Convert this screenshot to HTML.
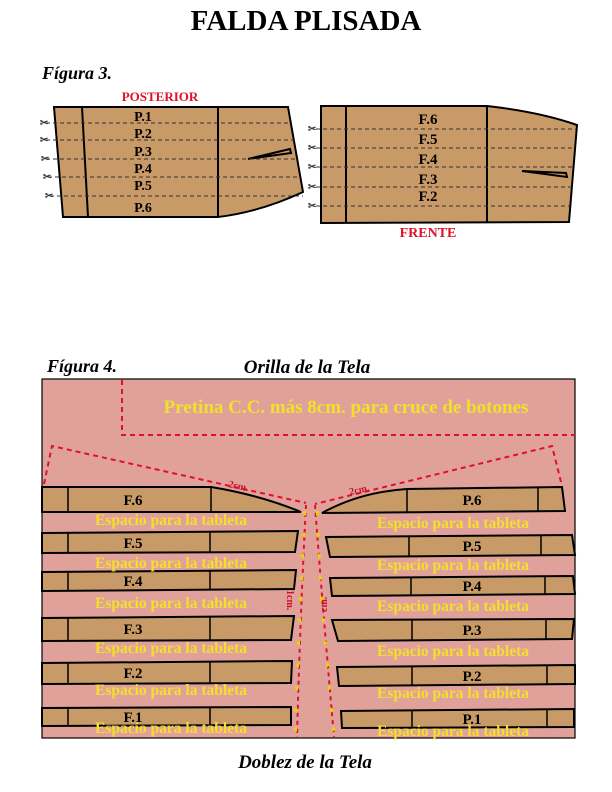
<!DOCTYPE html>
<html><head><meta charset="utf-8"><style>
html,body{margin:0;padding:0;background:#fff}
svg{display:block}
text{font-family:"Liberation Serif",serif;font-weight:bold}
</style></head><body>
<svg width="612" height="792" viewBox="0 0 612 792" xmlns="http://www.w3.org/2000/svg">
<text x="306" y="30" font-size="29" text-anchor="middle">FALDA PLISADA</text>
<text x="42" y="79" font-size="18" font-style="italic">Fígura 3.</text>
<text x="160" y="101" font-size="13" fill="#e0102a" text-anchor="middle">POSTERIOR</text>
<text x="428" y="237" font-size="14" fill="#e0102a" text-anchor="middle">FRENTE</text>

<!-- Posterior -->
<g stroke="#000" stroke-width="2" fill="#c89a68">
<path d="M54,107 L288,107 L303,192 Q260,212 218,217 L63,217 Z"/>
</g>
<g stroke="#000" stroke-width="2" fill="none">
<path d="M82,107 L88,217"/><path d="M218,107 L218,217"/>
<path d="M248,159 L290,149 L291,153 Z" fill="#c89a68"/>
</g>
<g stroke="#333" stroke-width="1" stroke-dasharray="4,3">
<path d="M46,123 L292,123 M46,140 L294,140 M46,159 L297,159 M48,177 L300,177 M50,196 L303,196"/>
</g>
<g font-size="14" text-anchor="middle">
<text x="143" y="121">P.1</text><text x="143" y="138">P.2</text><text x="143" y="156">P.3</text>
<text x="143" y="173">P.4</text><text x="143" y="190">P.5</text><text x="143" y="212">P.6</text>
</g>
<g font-size="10" fill="#333" font-weight="normal">
<text x="40" y="126">✂</text><text x="40" y="143">✂</text><text x="41" y="162">✂</text><text x="43" y="180">✂</text><text x="45" y="199">✂</text>
<text x="308" y="132">✂</text><text x="308" y="151">✂</text><text x="308" y="170">✂</text><text x="308" y="190">✂</text><text x="308" y="209">✂</text>
</g>

<!-- Frente -->
<g stroke="#000" stroke-width="2" fill="#c89a68">
<path d="M321,106 L487,106 Q540,112 577,125 L569,222 L321,223 Z"/>
</g>
<g stroke="#000" stroke-width="2" fill="none">
<path d="M346,106 L346,223"/><path d="M487,106 L487,222"/>
<path d="M522,171 L566,173 L567,177 Z" fill="#c89a68"/>
</g>
<g stroke="#333" stroke-width="1" stroke-dasharray="4,3">
<path d="M316,129 L576,129 M316,148 L575,148 M316,167 L574,167 M316,187 L572,187 M316,206 L570,206"/>
</g>
<g font-size="15" text-anchor="middle">
<text x="428" y="124">F.6</text><text x="428" y="144">F.5</text><text x="428" y="164">F.4</text>
<text x="428" y="184">F.3</text><text x="428" y="201">F.2</text>
</g>

<!-- Figura 4 -->
<text x="47" y="372" font-size="18" font-style="italic">Fígura 4.</text>
<text x="307" y="373" font-size="19" font-style="italic" text-anchor="middle">Orilla de la Tela</text>
<text x="305" y="768" font-size="19" font-style="italic" text-anchor="middle">Doblez de la Tela</text>
<rect x="42" y="379" width="533" height="359" fill="#e0a19a" stroke="#000" stroke-width="1.2"/>
<g stroke="#e0102a" stroke-width="2" fill="none" stroke-dasharray="5,4">
<path d="M122,380 L122,435 L575,435"/>
<path d="M44,484 L52,446 L306,503"/>
<path d="M561,482 L552,446 L315,504"/>
</g>
<g stroke="#e0102a" stroke-width="2" fill="none" stroke-dasharray="4,4">
<path d="M306,505 Q300,620 297,737"/>
<path d="M315,505 Q322,600 334,737"/>
</g>
<text x="346" y="413" font-size="19" fill="#f3e02a" text-anchor="middle">Pretina C.C. más 8cm. para cruce de botones</text>

<g stroke="#000" stroke-width="2" fill="#c89a68">
<path d="M42,487 L211,487 Q260,495 301,512 L42,512 Z"/>
<path d="M42,533 L298,531 L295,552 L42,553 Z"/>
<path d="M42,572 L296,570 L294,589 L42,591 Z"/>
<path d="M42,618 L294,616 L291,640 L42,641 Z"/>
<path d="M42,663 L292,661 L291,683 L42,684 Z"/>
<path d="M42,708 L291,707 L291,725 L42,726 Z"/>
<path d="M322,513 Q360,492 407,489 L562,487 L565,511 Z"/>
<path d="M326,537 L572,535 L575,555 L330,557 Z"/>
<path d="M330,578 L573,576 L575,594 L332,596 Z"/>
<path d="M332,620 L574,619 L572,639 L338,641 Z"/>
<path d="M337,667 L575,665 L575,684 L339,686 Z"/>
<path d="M341,711 L574,709 L574,727 L342,728 Z"/>
</g>
<g stroke="#000" stroke-width="1.5">
<path d="M68,487 V512 M211,487 V512 M68,532 V553 M210,532 V553 M68,571 V591 M210,571 V590 M68,617 V641 M210,617 V640 M68,662 V684 M210,662 V684 M68,707 V726 M210,707 V726"/>
<path d="M407,489 V512 M538,488 V511 M409,536 V556 M541,536 V555 M411,577 V595 M545,577 V594 M412,620 V640 M546,620 V640 M412,666 V685 M547,666 V684 M412,710 V727 M547,710 V727"/>
</g>
<g font-size="15" text-anchor="middle">
<text x="133" y="505">F.6</text><text x="133" y="548">F.5</text><text x="133" y="586">F.4</text>
<text x="133" y="634">F.3</text><text x="133" y="678">F.2</text><text x="133" y="722">F.1</text>
<text x="472" y="505">P.6</text><text x="472" y="551">P.5</text><text x="472" y="591">P.4</text>
<text x="472" y="635">P.3</text><text x="472" y="681">P.2</text><text x="472" y="724">P.1</text>
</g>
<g font-size="15.5" fill="#f3e02a" text-anchor="middle">
<text x="171" y="525">Espacio para la tableta</text><text x="171" y="568">Espacio para la tableta</text>
<text x="171" y="608">Espacio para la tableta</text><text x="171" y="653">Espacio para la tableta</text>
<text x="171" y="695">Espacio para la tableta</text><text x="171" y="733">Espacio para la tableta</text>
<text x="453" y="528">Espacio para la tableta</text><text x="453" y="570">Espacio para la tableta</text>
<text x="453" y="611">Espacio para la tableta</text><text x="453" y="656">Espacio para la tableta</text>
<text x="453" y="698">Espacio para la tableta</text><text x="453" y="736">Espacio para la tableta</text>
</g>
<g font-size="10" fill="#c8102a">
<text x="228" y="487" transform="rotate(12 228 487)">2cm.</text>
<text x="350" y="495" transform="rotate(-12 350 495)">2cm.</text>
<text x="0" y="0" transform="translate(287,590) rotate(90)">1cm.</text>
<text x="0" y="0" transform="translate(327,612) rotate(-90)">cm.</text>
</g>
<g fill="#e8d400">
<path d="M306,510 l-4,3 l4,3 Z M305,532 l-4,3 l4,3 Z M304,553 l-4,3 l4,3 Z M303,575 l-4,3 l4,3 Z M302,596 l-4,3 l4,3 Z M301,617 l-4,3 l4,3 Z M300,640 l-4,3 l4,3 Z M299,662 l-4,3 l4,3 Z M298,685 l-4,3 l4,3 Z M297,707 l-4,3 l4,3 Z M297,726 l-4,3 l4,3 Z"/>
<path d="M316,510 l4,3 l-4,3 Z M317,532 l4,3 l-4,3 Z M318,553 l4,3 l-4,3 Z M319,575 l4,3 l-4,3 Z M320,596 l4,3 l-4,3 Z M322,617 l4,3 l-4,3 Z M324,640 l4,3 l-4,3 Z M326,662 l4,3 l-4,3 Z M328,685 l4,3 l-4,3 Z M330,707 l4,3 l-4,3 Z M332,726 l4,3 l-4,3 Z"/>
</g>
</svg>
</body></html>
